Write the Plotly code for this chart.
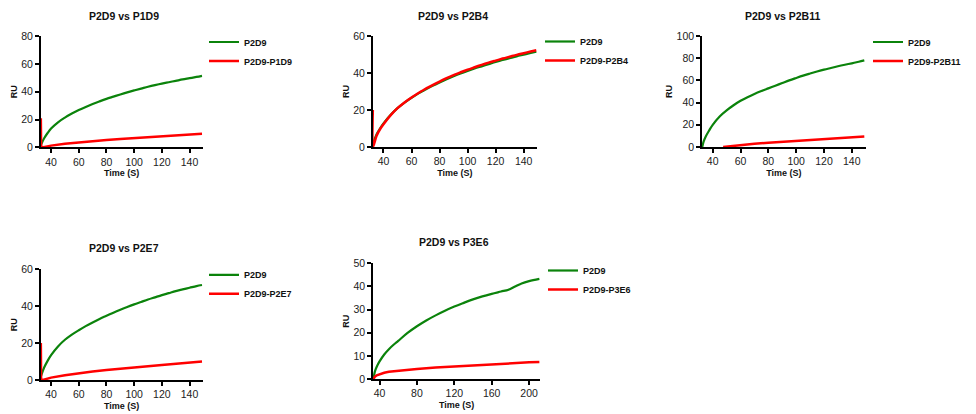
import plotly.graph_objects as go

W, H = 976, 414
OFF = 8  # the page body adds an 8px margin around the figure

# ---------------- data ----------------
titles = ["P2D9 vs P1D9", "P2D9 vs P2B4", "P2D9 vs P2B11", "P2D9 vs P2E7", "P2D9 vs P3E6"]
green_names = ["P2D9", "P2D9", "P2D9", "P2D9", "P2D9"]
red_names = ["P2D9-P1D9", "P2D9-P2B4", "P2D9-P2B11", "P2D9-P2E7", "P2D9-P3E6"]

# Panel 1: P2D9 vs P1D9
t1_green = [32.8, 35, 37.5, 40, 45, 50, 55, 60, 65, 70, 75, 80, 85, 90, 95, 100, 105, 110, 115, 120, 125, 130, 135, 140, 145, 149]
ru1_green = [2, 6.5, 10.3, 13.5, 18, 21.4, 24.3, 26.8, 29.1, 31.2, 33.1, 34.9, 36.5, 38.1, 39.6, 41, 42.3, 43.6, 44.8, 45.9, 46.9, 47.9, 48.9, 49.8, 50.7, 51.5]
t1_red = [32.6, 32.8, 34.5, 40, 50, 60, 70, 80, 90, 100, 110, 120, 130, 140, 149]
ru1_red = [21, 0.5, 0, 1.2, 2.5, 3.6, 4.5, 5.3, 6.0, 6.7, 7.3, 7.9, 8.5, 9.1, 9.8]

# Panel 2: P2D9 vs P2B4
t2_green = [32.8, 35, 37.5, 40, 45, 50, 55, 60, 65, 70, 75, 80, 85, 90, 95, 100, 105, 110, 115, 120, 125, 130, 135, 140, 145, 149]
ru2_green = [2.3, 6.8, 10, 12.8, 17.3, 21, 24, 26.6, 29, 31.1, 33.1, 34.9, 36.6, 38.2, 39.7, 41.1, 42.4, 43.6, 44.8, 46, 47, 48, 49, 49.9, 50.8, 51.5]
t2_red = [32.4, 32.5, 35, 37.5, 40, 45, 50, 55, 60, 65, 70, 75, 80, 85, 90, 95, 100, 105, 110, 115, 120, 125, 130, 135, 140, 145, 149]
ru2_red = [20, 0, 6, 9.6, 12.3, 17.1, 21, 24.1, 26.8, 29.2, 31.5, 33.5, 35.4, 37.2, 38.9, 40.4, 41.8, 43.1, 44.4, 45.6, 46.7, 47.8, 48.8, 49.8, 50.7, 51.6, 52.3]

# Panel 3: P2D9 vs P2B11
t3_green = [32.5, 33.5, 35, 37.5, 40, 45, 50, 55, 60, 65, 70, 75, 80, 85, 90, 95, 100, 105, 110, 115, 120, 125, 130, 135, 140, 145, 149]
ru3_green = [0, 5, 9.5, 15, 20, 27.5, 33, 37.6, 41.6, 44.9, 47.8, 50.4, 52.8, 55.2, 57.6, 60, 62.2, 64.3, 66.2, 68, 69.7, 71.2, 72.7, 74.1, 75.4, 76.8, 78]
t3_red = [47.5, 60, 70, 80, 90, 100, 110, 120, 130, 140, 149]
ru3_red = [0, 1.8, 2.9, 3.9, 4.7, 5.4, 6.2, 6.9, 7.7, 8.4, 9.4]

# Panel 4: P2D9 vs P2E7
t4_green = [32.8, 35, 37.5, 40, 45, 50, 55, 60, 65, 70, 75, 80, 85, 90, 95, 100, 105, 110, 115, 120, 125, 130, 135, 140, 145, 149]
ru4_green = [2.3, 6.8, 10.4, 13.5, 18.2, 21.8, 24.6, 27, 29.2, 31.2, 33.1, 34.8, 36.5, 38.1, 39.6, 41, 42.3, 43.6, 44.8, 46, 47.1, 48.2, 49.1, 50, 50.9, 51.5]
t4_red = [32.6, 32.8, 34, 40, 50, 60, 70, 80, 90, 100, 110, 120, 130, 140, 149]
ru4_red = [20, 0.5, 0, 1.3, 2.6, 3.7, 4.6, 5.4, 6.2, 6.9, 7.5, 8.1, 8.8, 9.4, 10]

# Panel 5: P2D9 vs P3E6
t5_green = [33.5, 35, 37, 40, 45, 50, 55, 60, 70, 80, 90, 100, 110, 120, 130, 140, 150, 160, 170, 178, 185, 192, 200, 211]
ru5_green = [0, 3.2, 5.3, 7.6, 10.6, 12.9, 14.8, 16.5, 19.9, 22.8, 25.3, 27.5, 29.5, 31.3, 32.9, 34.4, 35.7, 36.8, 37.8, 38.6, 40, 41.3, 42.3, 43.3]
t5_red = [33.5, 35, 37, 40, 45, 50, 60, 70, 80, 100, 120, 140, 160, 180, 200, 211]
ru5_red = [0, 1, 1.6, 2.1, 2.7, 3.1, 3.6, 4.0, 4.3, 5.0, 5.5, 6.0, 6.5, 6.9, 7.2, 7.4]

x_ticks_a = [40, 60, 80, 100, 120, 140]
x_ticks_b = [40, 80, 120, 160, 200]
y_ticks = [[0, 20, 40, 60, 80], [0, 20, 40, 60], [0, 20, 40, 60, 80, 100], [0, 20, 40, 60], [0, 10, 20, 30, 40, 50]]
x_ranges = [[32.5, 149.5], [32.3, 149.5], [32.3, 150], [32.5, 149.5], [33, 212]]
y_ranges = [[0, 80], [0, 60], [0, 100], [0, 60], [0, 50]]

greens = [(t1_green, ru1_green), (t2_green, ru2_green), (t3_green, ru3_green), (t4_green, ru4_green), (t5_green, ru5_green)]
reds = [(t1_red, ru1_red), (t2_red, ru2_red), (t3_red, ru3_red), (t4_red, ru4_red), (t5_red, ru5_red)]
red_curved = [False, True, False, False, False]

# ---------------- layout (page pixel boxes) ----------------
boxes = [(40.7, 202.7, 36.3, 147.3), (372.7, 537, 36, 147), (702, 865.7, 36, 147),
         (40.7, 202.7, 269.3, 380), (373, 540.3, 263.3, 379)]
title_pos = [(124, 16), (453.3, 16), (782.5, 16), (124, 248.3), (453.7, 241.7)]
legend_text_x = [244, 580, 908, 244, 583]
legend_mid_y = [51.5, 51, 51.5, 284.3, 280]

GREEN = "#0b830b"
RED = "#ff0000"
FONT = "Liberation Sans, Arial, sans-serif"


def px(x):
    return (x - OFF) / W


def py(y):
    return 1 - (y - OFF) / H


fig = go.Figure()
layout = dict(width=W, height=H, margin=dict(l=0, r=0, t=0, b=0, autoexpand=False),
              paper_bgcolor="white", plot_bgcolor="white", annotations=[],
              font=dict(family=FONT, color="#222"))

for i in range(5):
    k = "" if i == 0 else str(i + 1)
    lg = "legend" if i == 0 else f"legend{i + 1}"
    xa, ya = f"x{k}", f"y{k}"
    gx, gy = greens[i]
    rx, ry = reds[i]
    fig.add_trace(go.Scatter(x=gx, y=gy, mode="lines", name=green_names[i],
                             line=dict(color=GREEN, width=2.2, shape="spline", smoothing=1.0),
                             xaxis=xa, yaxis=ya, legend=lg))
    rline = dict(color=RED, width=2.5)
    if red_curved[i]:
        rline.update(shape="spline", smoothing=0.8)
    fig.add_trace(go.Scatter(x=rx, y=ry, mode="lines", name=red_names[i], line=rline,
                             xaxis=xa, yaxis=ya, legend=lg))
    l, r, t, b = boxes[i]
    xticks = x_ticks_b if i == 4 else x_ticks_a
    axis_common = dict(showline=True, linecolor="black", linewidth=1.5, ticks="outside",
                       ticklen=4, tickwidth=1.5, tickcolor="black", showgrid=False, zeroline=False,
                       automargin=False,
                       tickfont=dict(size=10.5, color="#222", family=FONT))
    layout[f"xaxis{k}"] = dict(axis_common, domain=[px(l), px(r)], range=x_ranges[i],
                               tickvals=xticks, anchor=ya,
                               title=dict(text="Time (S)", standoff=3,
                                          font=dict(size=9, weight="bold", color="#111", family=FONT)))
    layout[f"yaxis{k}"] = dict(axis_common, domain=[py(b), py(t)], range=y_ranges[i],
                               tickvals=y_ticks[i], anchor=xa,
                               title=dict(text="RU", standoff=2,
                                          font=dict(size=9, weight="bold", color="#111", family=FONT)))
    cx, cy = title_pos[i]
    layout["annotations"].append(dict(text=titles[i], x=px(cx), y=py(cy), xref="paper", yref="paper",
                                      xanchor="center", yanchor="middle", showarrow=False,
                                      font=dict(size=10.5, weight="bold", color="#111", family=FONT)))
    layout[lg] = dict(x=px(legend_text_x[i] - 40), y=py(legend_mid_y[i]), xanchor="left", yanchor="middle",
                      xref="paper", yref="paper", bgcolor="rgba(0,0,0,0)", borderwidth=0,
                      itemwidth=30, tracegroupgap=0,
                      font=dict(size=9, weight="bold", color="#111", family=FONT))

fig.update_layout(**layout)
fig.write_html("out.html")
